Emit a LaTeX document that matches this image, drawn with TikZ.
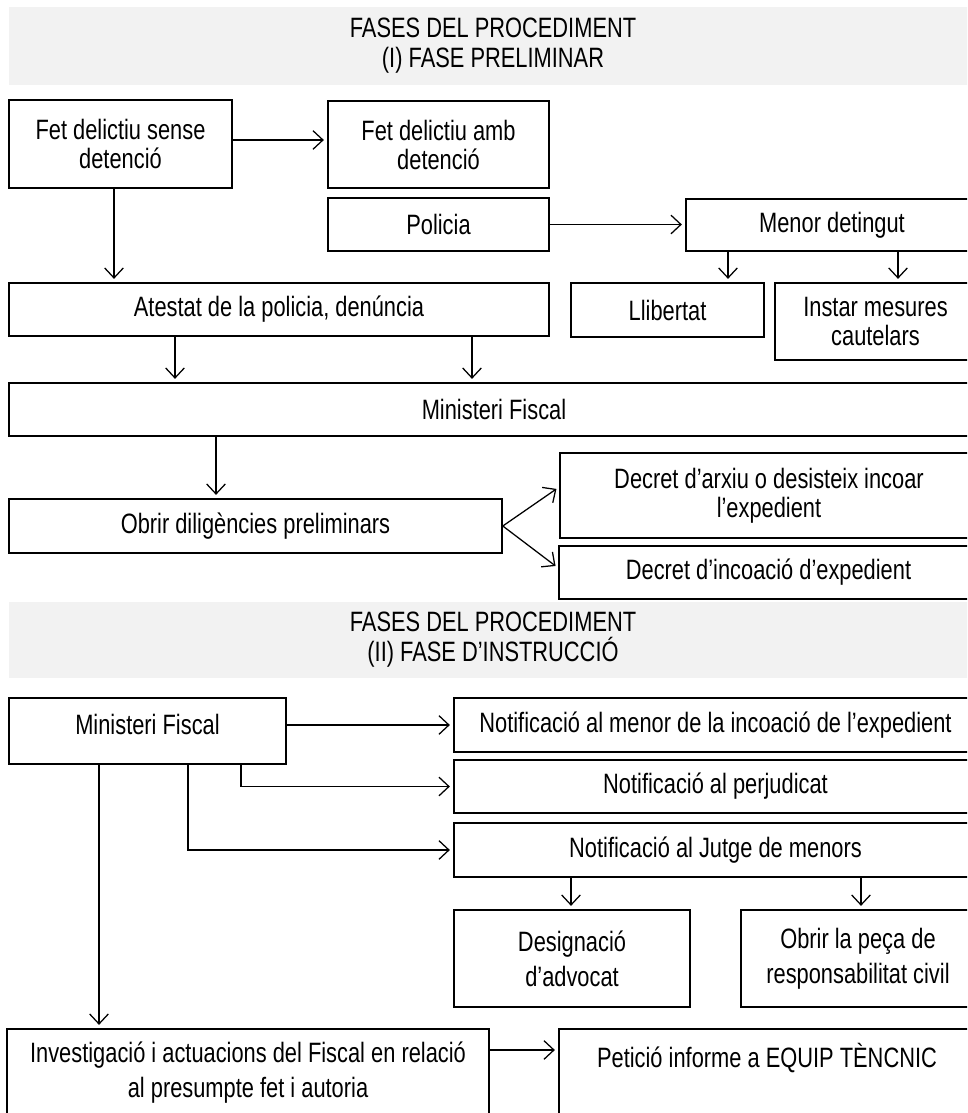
\documentclass[tikz,border=0pt]{standalone}
\usepackage{fontspec}
\setmainfont{Liberation Sans}[FakeStretch=0.78]
\usetikzlibrary{arrows.meta,calc}
\definecolor{bandgray}{HTML}{F2F2F2}
\tikzset{
  box/.style={draw=black, line width=1.2pt, rectangle, inner sep=0pt, align=center,
    font=\fontsize{21pt}{21.75pt}\selectfont},
  boxb/.style={box, font=\fontsize{21pt}{26.25pt}\selectfont},
  band/.style={fill=bandgray, draw=none, rectangle, inner sep=0pt, align=center,
    font=\fontsize{21pt}{22.5pt}\selectfont},
  arr/.style={line width=0.95pt, -{Straight Barb[length=7.5pt,width=14pt,line width=0.95pt]}, shorten >=2.5pt},
}
% \bx{style}{x1}{y1}{x2}{y2}{name}{text}
\newcommand\bx[7]{\node[#1, minimum width={(#4-#2)*0.75pt}, minimum height={(#5-#3)*0.75pt}] (#6) at ({(#2+#4)/2},{(#3+#5)/2}) {#7};}
\begin{document}
\begin{tikzpicture}[x=0.75pt,y=-0.75pt]
\useasboundingbox (0,0) rectangle (967,1113);
\clip (0,0) rectangle (967,1113);
\fill[white] (0,0) rectangle (967,1113);
% headers
\bx{band}{9}{7}{977}{85}{h1}{FASES DEL PROCEDIMENT\\(I) FASE PRELIMINAR}
\bx{band}{9}{602}{977}{678}{h2}{FASES DEL PROCEDIMENT\\(II) FASE D’INSTRUCCIÓ}
% section I
\bx{box}{9}{100}{232}{188}{fs}{Fet delictiu sense\\detenció}
\bx{box}{328}{101}{549}{188}{fa}{Fet delictiu amb\\detenció}
\bx{box}{328}{198}{549}{251}{pol}{Policia}
\bx{box}{686}{199}{978}{251}{men}{Menor detingut}
\bx{box}{9}{283}{549}{336}{ate}{Atestat de la policia, denúncia}
\bx{box}{571}{283}{764}{337}{lli}{Llibertat}
\bx{box}{775}{283}{976}{360}{ins}{Instar mesures\\cautelars}
\bx{box}{9}{383}{979}{436}{mf}{Ministeri Fiscal}
\bx{box}{9}{499}{502}{553}{obr}{Obrir diligències preliminars}
\bx{box}{560}{453}{978}{538}{dar}{Decret d’arxiu o desisteix incoar\\l’expedient}
\bx{box}{559}{546}{978}{599}{dinc}{Decret d’incoació d’expedient}
% section II
\bx{box,text depth=10pt}{9}{698}{286}{764}{mf2}{Ministeri Fiscal}
\bx{box}{454}{698}{977}{752}{nm}{Notificació al menor de la incoació de l’expedient}
\bx{box}{454}{760}{977}{813}{np}{Notificació al perjudicat}
\bx{box}{454}{823}{977}{877}{nj}{Notificació al Jutge de menors}
\bx{boxb}{454}{910}{690}{1007}{des}{Designació\\d’advocat}
\bx{boxb}{741}{910}{975}{1007}{pec}{Obrir la peça de\\responsabilitat civil}
\bx{boxb}{7}{1029}{489}{1116}{inv}{Investigació i actuacions del Fiscal en relació\\al presumpte fet i autoria}
\bx{boxb}{559}{1029}{975}{1116}{pet}{Petició informe a EQUIP TÈNCNIC\\~}
% connectors section I
\draw[arr] (fs.east |- 0,140) -- (fa.west |- 0,140);
\draw[arr] (fs.south -| 114,0) -- (ate.north -| 114,0);
\draw[arr] (pol.east) -- (pol.east -| men.west);
\draw[arr] (men.south -| 728,0) -- (lli.north -| 728,0);
\draw[arr] (men.south -| 898,0) -- (ins.north -| 898,0);
\draw[arr] (ate.south -| 175,0) -- (mf.north -| 175,0);
\draw[arr] (ate.south -| 472,0) -- (mf.north -| 472,0);
\draw[arr] (mf.south -| 216,0) -- (obr.north -| 216,0);
\draw[arr] (obr.east) -- (dar.west |- 0,487);
\draw[arr] (obr.east) -- (dinc.west |- 0,568);
% connectors section II
\draw[arr] (mf2.east |- nm.west) -- (nm.west);
\draw[arr] (mf2.south -| 241,0) |- (np.west);
\draw[arr] (mf2.south -| 188,0) |- (nj.west);
\draw[arr] (nj.south -| 571,0) -- (des.north -| 571,0);
\draw[arr] (nj.south -| 861,0) -- (pec.north -| 861,0);
\draw[arr] (mf2.south -| 99,0) -- (inv.north -| 99,0);
\draw[arr] (inv.east |- 0,1050) -- (pet.west |- 0,1050);
\end{tikzpicture}
\end{document}
